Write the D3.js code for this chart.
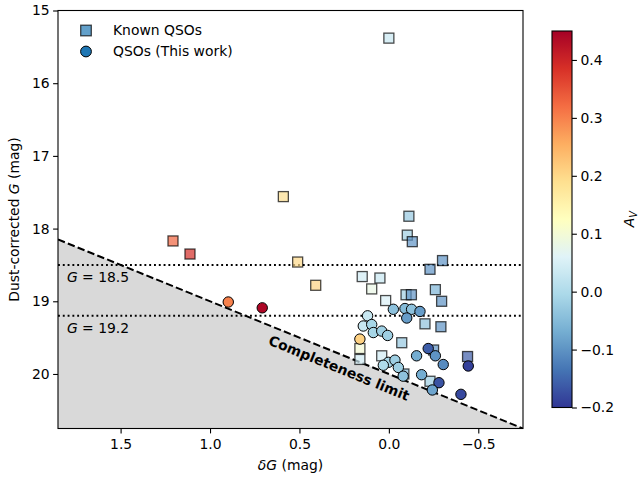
<!DOCTYPE html>
<html>
<head>
<meta charset="utf-8">
<script src="https://cdn.jsdelivr.net/npm/d3@7"></script>
<style>
  html, body { margin: 0; padding: 0; background: #fff; }
  svg { display: block; }
  text { font-family: "DejaVu Sans", sans-serif; fill: #000; }
</style>
</head>
<body>
<svg id="chart" width="638" height="477"></svg>
<script>
// ---------- DATA ----------
// Known QSOs (squares)
const knownDG = [0.00, 0.590, 1.207, 1.112, 0.510, 0.409, -0.112, -0.103, -0.131, -0.300, -0.230,
                 0.149, 0.050, 0.096, -0.260, -0.096, -0.126, -0.295, 0.018, -0.202, -0.291,
                 -0.072, 0.162, 0.162, 0.040, -0.250, -0.440, -0.230, -0.084];
const knownG  = [15.38, 17.56, 18.17, 18.35, 18.46, 18.78, 17.83, 18.09, 18.18, 18.44, 18.56,
                 18.66, 18.68, 18.83, 18.84, 18.91, 18.91, 19.00, 18.99, 19.31, 19.35,
                 19.57, 19.65, 19.80, 19.75, 19.67, 19.76, 20.10, 20.00];
const knownAv = [0.03, 0.19, 0.33, 0.39, 0.20, 0.21, -0.03, -0.02, -0.10, -0.10, -0.10,
                 0.04, 0.03, 0.08, -0.06, -0.02, -0.10, -0.10, 0.05, -0.04, -0.10,
                 -0.03, 0.10, 0.04, 0.04, -0.10, -0.16, -0.02, -0.05];

// QSOs (This work) (circles)
const newDG = [0.898, 0.708, 0.119, -0.025, -0.090, -0.127, -0.174, -0.100, 0.143, 0.096, 0.087,
               0.040, 0.007, 0.162, -0.155, -0.220, -0.260, -0.304, -0.444, 0.003, -0.034,
               0.031, -0.053, -0.080, -0.183, -0.280, -0.243, -0.403];
const newG  = [19.01, 19.09, 19.20, 19.11, 19.10, 19.11, 19.14, 19.23, 19.34, 19.32, 19.43,
               19.41, 19.47, 19.52, 19.75, 19.65, 19.75, 19.87, 19.89, 19.84, 19.81,
               19.88, 19.91, 20.03, 20.01, 20.12, 20.22, 20.28];
const newAv = [0.30, 0.44, 0.03, -0.04, -0.05, -0.04, -0.09, -0.09, 0.03, -0.01, -0.01,
               -0.02, -0.02, 0.21, -0.07, -0.16, -0.10, -0.11, -0.19, -0.01, -0.02,
               0.00, -0.02, -0.04, -0.07, -0.17, -0.08, -0.18];

const xTicks = [1.5, 1.0, 0.5, 0.0, -0.5];
const yTicks = [15, 16, 17, 18, 19, 20];
const cbTicks = [-0.2, -0.1, 0.0, 0.1, 0.2, 0.3, 0.4];
const refLevels = [18.5, 19.2];
const refLabels = ["18.5", "19.2"];
const xDomain = [1.85, -0.75];
const yDomain = [15, 20.75];
const avDomain = [-0.2, 0.45];
const completenessZero = 20; // G = 20 - δG

// RdYlBu_r colour stops
const rdylbuR = ["#313695","#4575b4","#74add1","#abd9e9","#e0f3f8","#ffffbf",
                 "#fee090","#fdae61","#f46d43","#d73027","#a50026"];

// ---------- LAYOUT ----------
const svg = d3.select("#chart");
const L = 58, R = 523, T = 10.5, B = 428.5;
const FS = 13.9;

const x = d3.scaleLinear().domain(xDomain).range([L, R]);
const y = d3.scaleLinear().domain(yDomain).range([T, B]);
const color = d3.scaleLinear()
  .domain(d3.range(rdylbuR.length).map(i => avDomain[0] + i * (avDomain[1] - avDomain[0]) / (rdylbuR.length - 1)))
  .range(rdylbuR).interpolate(d3.interpolateRgb).clamp(true);

const fmt = v => d3.format(".1f")(v).replace("-", "\u2212");

const defs = svg.append("defs");
defs.append("clipPath").attr("id", "clip").append("rect")
  .attr("x", L).attr("y", T).attr("width", R - L).attr("height", B - T);

const plot = svg.append("g").attr("clip-path", "url(#clip)");

// shaded incomplete region
const limit = d => completenessZero - d;
plot.append("path")
  .attr("d", d3.line()([
    [x(xDomain[0]), y(limit(xDomain[0]))],
    [x(xDomain[1]), y(limit(xDomain[1]))],
    [x(xDomain[1]), y(yDomain[1])],
    [x(xDomain[0]), y(yDomain[1])]
  ]) + "Z")
  .attr("fill", "#d9d9d9");

// dotted magnitude cuts
refLevels.forEach(g => {
  plot.append("line")
    .attr("x1", L).attr("x2", R).attr("y1", y(g)).attr("y2", y(g))
    .attr("stroke", "#000").attr("stroke-width", 1.9)
    .attr("stroke-dasharray", "1.9 2.9");
});

// dashed completeness line
plot.append("line")
  .attr("x1", x(xDomain[0])).attr("y1", y(limit(xDomain[0])))
  .attr("x2", x(xDomain[1])).attr("y2", y(limit(xDomain[1])))
  .attr("stroke", "#000").attr("stroke-width", 2)
  .attr("stroke-dasharray", "7.4 3.2");

// G labels
const labelOffsets = [0.175, 0.175];
refLevels.forEach((g, i) => {
  const t = svg.append("text")
    .attr("x", x(1.8)).attr("y", y(g + labelOffsets[i]))
    .attr("dominant-baseline", "middle")
    .attr("font-size", FS);
  t.append("tspan").attr("font-style", "italic").text("G");
  t.append("tspan").text(" = " + refLabels[i]);
});

// squares (known)
const sq = 10;
plot.append("g").selectAll("rect")
  .data(knownDG.map((d, i) => ({dg: d, g: knownG[i], av: knownAv[i]})))
  .join("rect")
  .attr("x", d => x(d.dg) - sq / 2).attr("y", d => y(d.g) - sq / 2)
  .attr("width", sq).attr("height", sq)
  .attr("fill", d => color(d.av)).attr("fill-opacity", 0.7)
  .attr("stroke", "#000").attr("stroke-opacity", 0.7).attr("stroke-width", 1.3);

// circles (this work)
plot.append("g").selectAll("circle")
  .data(newDG.map((d, i) => ({dg: d, g: newG[i], av: newAv[i]})))
  .join("circle")
  .attr("cx", d => x(d.dg)).attr("cy", d => y(d.g)).attr("r", 5.2)
  .attr("fill", d => color(d.av))
  .attr("stroke", "#000").attr("stroke-width", 1);

// Completeness limit label
const ang = Math.atan2(y(limit(xDomain[1])) - y(limit(xDomain[0])), x(xDomain[1]) - x(xDomain[0])) * 180 / Math.PI;
svg.append("text")
  .attr("transform", `translate(${x(0.28)},${y(19.93)}) rotate(${ang})`)
  .attr("text-anchor", "middle").attr("dominant-baseline", "middle")
  .attr("font-weight", "bold").attr("font-size", FS)
  .text("Completeness limit");

// axes
const xAxis = svg.append("g").attr("transform", `translate(0,${B})`)
  .call(d3.axisBottom(x).tickValues(xTicks).tickFormat(fmt).tickSize(4.9).tickPadding(5.5).tickSizeOuter(0));
const yAxis = svg.append("g").attr("transform", `translate(${L},0)`)
  .call(d3.axisLeft(y).tickValues(yTicks).tickFormat(d3.format("d")).tickSize(4.9).tickPadding(3.5).tickSizeOuter(0));
[xAxis, yAxis].forEach(a => {
  a.select(".domain").remove();
  a.selectAll("line").attr("stroke", "#000").attr("stroke-width", 1.1);
  a.selectAll("text").attr("font-size", FS).attr("font-family", "DejaVu Sans");
});

// frame
svg.append("rect").attr("x", L).attr("y", T).attr("width", R - L).attr("height", B - T)
  .attr("fill", "none").attr("stroke", "#000").attr("stroke-width", 1.1);

// axis labels
const xl = svg.append("text").attr("x", (L + R) / 2).attr("y", 470)
  .attr("text-anchor", "middle").attr("font-size", FS);
xl.append("tspan").attr("font-style", "italic").text("\u03B4G");
xl.append("tspan").text(" (mag)");

const yl = svg.append("text").attr("transform", `translate(19,${(T + B) / 2}) rotate(-90)`)
  .attr("text-anchor", "middle").attr("font-size", FS);
yl.append("tspan").text("Dust-corrected ");
yl.append("tspan").attr("font-style", "italic").text("G");
yl.append("tspan").text(" (mag)");

// legend
const lg = svg.append("g");
lg.append("rect").attr("x", 86 - 5.3).attr("y", 30.5 - 5.3).attr("width", 10.6).attr("height", 10.6)
  .attr("fill", "#1f77b4").attr("fill-opacity", 0.7)
  .attr("stroke", "#000").attr("stroke-opacity", 0.7).attr("stroke-width", 1.3);
lg.append("circle").attr("cx", 86).attr("cy", 51.5).attr("r", 5.4)
  .attr("fill", "#1f77b4").attr("stroke", "#000").attr("stroke-width", 1);
lg.append("text").attr("x", 113).attr("y", 30.5).attr("dominant-baseline", "middle")
  .attr("font-size", FS).text("Known QSOs");
lg.append("text").attr("x", 113).attr("y", 51.5).attr("dominant-baseline", "middle")
  .attr("font-size", FS).text("QSOs (This work)");

// colorbar
const cbL = 552, cbR = 572, cbT = 31, cbB = 407.5;
const cy = d3.scaleLinear().domain(avDomain).range([cbB, cbT]);
const grad = defs.append("linearGradient").attr("id", "cbgrad")
  .attr("x1", 0).attr("x2", 0).attr("y1", 1).attr("y2", 0);
d3.range(0, 1.0001, 0.02).forEach(t => {
  grad.append("stop").attr("offset", t)
    .attr("stop-color", color(avDomain[0] + t * (avDomain[1] - avDomain[0])));
});
svg.append("rect").attr("x", cbL).attr("y", cbT).attr("width", cbR - cbL).attr("height", cbB - cbT)
  .attr("fill", "url(#cbgrad)").attr("stroke", "#000").attr("stroke-width", 1.1);
const cAxis = svg.append("g").attr("transform", `translate(${cbR},0)`)
  .call(d3.axisRight(cy).tickValues(cbTicks).tickFormat(fmt).tickSize(4.9).tickPadding(3.5).tickSizeOuter(0));
cAxis.select(".domain").remove();
cAxis.selectAll("line").attr("stroke", "#000").attr("stroke-width", 1.1);
cAxis.selectAll("text").attr("font-size", FS).attr("font-family", "DejaVu Sans");

const al = svg.append("text").attr("transform", `translate(634,${(cbT + cbB) / 2}) rotate(-90)`)
  .attr("text-anchor", "middle").attr("font-size", FS);
al.append("tspan").attr("font-style", "italic").text("A");
al.append("tspan").attr("font-style", "italic").attr("font-size", FS * 0.7).attr("dy", 3).text("V");
</script>
</body>
</html>
